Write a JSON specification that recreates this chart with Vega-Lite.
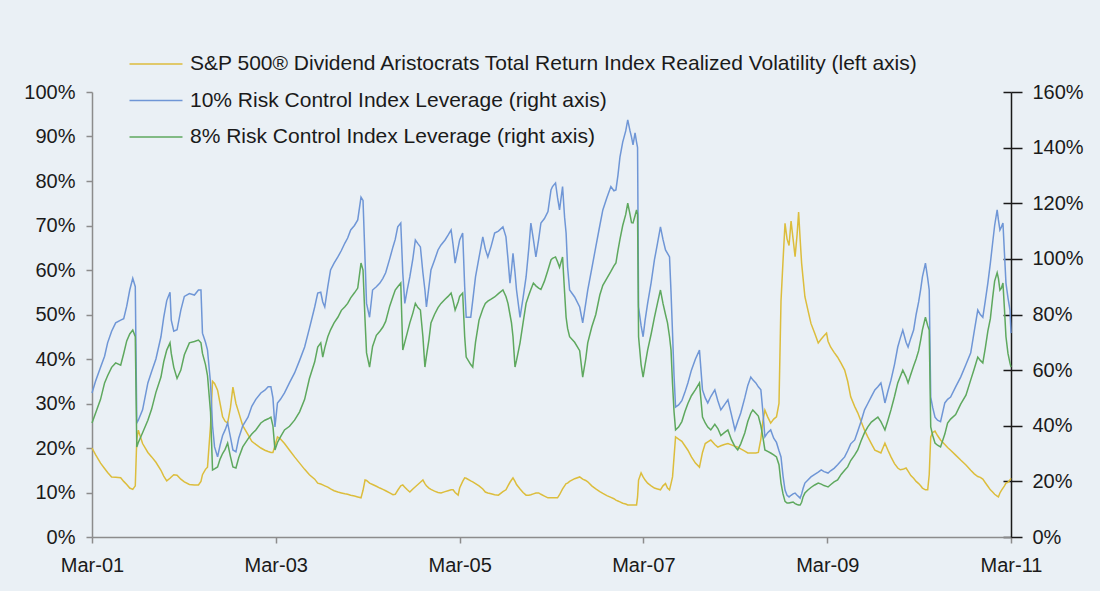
{
  "$schema": "https://vega.github.io/schema/vega-lite/v6.json",
  "width": 919,
  "height": 445,
  "autosize": {"type": "none"},
  "padding": {"left": 92, "top": 92, "right": 89, "bottom": 54},
  "background": "#eaf0f5",
  "config": {
    "view": {"stroke": null},
    "font": "Liberation Sans",
    "axis": {"labelFont": "Liberation Sans", "labelFontSize": 20, "labelColor": "#1a1a1a", "title": null},
    "legend": {"labelFont": "Liberation Sans"}
  },
  "data": {"values": [
    {"date":"2001-03-01","vol":20,"lev10":51.8,"lev8":41},
    {"date":"2001-03-15","vol":18.5,"lev10":56,"lev8":44.5},
    {"date":"2001-04-04","vol":16.6,"lev10":61,"lev8":49.5},
    {"date":"2001-04-20","vol":15.4,"lev10":65,"lev8":55.4},
    {"date":"2001-05-02","vol":14.5,"lev10":69.8,"lev8":58},
    {"date":"2001-05-18","vol":13.5,"lev10":74,"lev8":61},
    {"date":"2001-06-03","vol":13.4,"lev10":77,"lev8":62.6},
    {"date":"2001-06-23","vol":13.3,"lev10":78,"lev8":61.8},
    {"date":"2001-07-05","vol":12.5,"lev10":78.5,"lev8":66},
    {"date":"2001-07-17","vol":11.8,"lev10":83,"lev8":70.5},
    {"date":"2001-07-29","vol":11,"lev10":88.8,"lev8":73},
    {"date":"2001-08-10","vol":10.7,"lev10":93,"lev8":74.4},
    {"date":"2001-08-20","vol":11.5,"lev10":90,"lev8":72},
    {"date":"2001-08-26","vol":22,"lev10":41,"lev8":32.4},
    {"date":"2001-09-01","vol":24,"lev10":42,"lev8":34},
    {"date":"2001-09-18","vol":21,"lev10":45.7,"lev8":37.5},
    {"date":"2001-10-09","vol":19,"lev10":55.4,"lev8":42},
    {"date":"2001-10-24","vol":18,"lev10":59.5,"lev8":46},
    {"date":"2001-11-10","vol":16.8,"lev10":64,"lev8":52},
    {"date":"2001-11-30","vol":15,"lev10":72,"lev8":57.5},
    {"date":"2001-12-11","vol":13.7,"lev10":79,"lev8":63},
    {"date":"2001-12-23","vol":12.6,"lev10":85,"lev8":67.2},
    {"date":"2002-01-05","vol":13.2,"lev10":88,"lev8":69.8},
    {"date":"2002-01-10","vol":13.5,"lev10":78,"lev8":66},
    {"date":"2002-01-20","vol":14,"lev10":74,"lev8":61},
    {"date":"2002-02-02","vol":13.9,"lev10":74.5,"lev8":57},
    {"date":"2002-02-17","vol":13,"lev10":81.6,"lev8":60},
    {"date":"2002-03-03","vol":12.4,"lev10":86.5,"lev8":65.5},
    {"date":"2002-03-23","vol":11.8,"lev10":87.5,"lev8":69.8},
    {"date":"2002-04-12","vol":11.7,"lev10":87,"lev8":70.3},
    {"date":"2002-04-28","vol":11.7,"lev10":88.8,"lev8":70.8},
    {"date":"2002-05-08","vol":12.5,"lev10":88.8,"lev8":69.8},
    {"date":"2002-05-14","vol":14,"lev10":73.3,"lev8":66},
    {"date":"2002-05-26","vol":15.2,"lev10":70,"lev8":62},
    {"date":"2002-06-03","vol":15.7,"lev10":67.2,"lev8":58},
    {"date":"2002-06-15","vol":25,"lev10":55.4,"lev8":45},
    {"date":"2002-06-23","vol":35,"lev10":40,"lev8":24.1},
    {"date":"2002-07-01","vol":34.5,"lev10":32.4,"lev8":24.5},
    {"date":"2002-07-13","vol":33,"lev10":28.8,"lev8":25.2},
    {"date":"2002-07-23","vol":30,"lev10":33,"lev8":28},
    {"date":"2002-08-02","vol":27,"lev10":36.5,"lev8":30},
    {"date":"2002-08-12","vol":26,"lev10":38.5,"lev8":31.5},
    {"date":"2002-08-22","vol":25.6,"lev10":41,"lev8":33.8},
    {"date":"2002-09-02","vol":29,"lev10":36,"lev8":29},
    {"date":"2002-09-12","vol":33.7,"lev10":31.3,"lev8":25.2},
    {"date":"2002-09-24","vol":30,"lev10":30.6,"lev8":24.8},
    {"date":"2002-10-05","vol":28,"lev10":35.5,"lev8":28.5},
    {"date":"2002-10-21","vol":25,"lev10":40,"lev8":32.4},
    {"date":"2002-11-11","vol":23,"lev10":43.1,"lev8":35.3},
    {"date":"2002-11-26","vol":21.5,"lev10":47,"lev8":37},
    {"date":"2002-12-12","vol":20.8,"lev10":49.5,"lev8":38.5},
    {"date":"2003-01-01","vol":20,"lev10":51.8,"lev8":41},
    {"date":"2003-01-17","vol":19.5,"lev10":52.8,"lev8":42},
    {"date":"2003-01-30","vol":19.2,"lev10":54,"lev8":42.5},
    {"date":"2003-02-10","vol":19,"lev10":54,"lev8":43.1},
    {"date":"2003-02-18","vol":19,"lev10":50,"lev8":40},
    {"date":"2003-02-26","vol":20.5,"lev10":39.6,"lev8":31.3},
    {"date":"2003-03-08","vol":22.5,"lev10":48.2,"lev8":34},
    {"date":"2003-03-20","vol":22,"lev10":49.5,"lev8":36},
    {"date":"2003-04-05","vol":21,"lev10":51.8,"lev8":38.5},
    {"date":"2003-04-25","vol":19.5,"lev10":55.5,"lev8":39.8},
    {"date":"2003-05-15","vol":18,"lev10":59,"lev8":42},
    {"date":"2003-06-04","vol":16.6,"lev10":63.5,"lev8":45},
    {"date":"2003-06-24","vol":15.2,"lev10":68.3,"lev8":49.5},
    {"date":"2003-07-13","vol":14,"lev10":75,"lev8":57},
    {"date":"2003-08-03","vol":13,"lev10":82.7,"lev8":63},
    {"date":"2003-08-15","vol":12.1,"lev10":87.7,"lev8":68.3},
    {"date":"2003-08-27","vol":11.9,"lev10":88,"lev8":69.8},
    {"date":"2003-09-04","vol":11.7,"lev10":84.5,"lev8":64.7},
    {"date":"2003-09-12","vol":11.5,"lev10":82.7,"lev8":68},
    {"date":"2003-09-24","vol":11.2,"lev10":90,"lev8":72},
    {"date":"2003-10-05","vol":10.8,"lev10":96,"lev8":74.5},
    {"date":"2003-10-19","vol":10.4,"lev10":98.5,"lev8":77},
    {"date":"2003-11-03","vol":10.1,"lev10":100.7,"lev8":79},
    {"date":"2003-11-17","vol":9.9,"lev10":103,"lev8":81.5},
    {"date":"2003-12-01","vol":9.7,"lev10":105.7,"lev8":82.8},
    {"date":"2003-12-12","vol":9.6,"lev10":107.5,"lev8":84},
    {"date":"2003-12-24","vol":9.4,"lev10":110.4,"lev8":86},
    {"date":"2004-01-08","vol":9.2,"lev10":112,"lev8":87.8},
    {"date":"2004-01-21","vol":9,"lev10":114,"lev8":89.5},
    {"date":"2004-02-03","vol":8.8,"lev10":122.2,"lev8":98.5},
    {"date":"2004-02-11","vol":10.5,"lev10":121,"lev8":96},
    {"date":"2004-02-19","vol":12.8,"lev10":100,"lev8":78},
    {"date":"2004-02-25","vol":12.7,"lev10":84,"lev8":66.2},
    {"date":"2004-03-08","vol":12.1,"lev10":79,"lev8":61.1},
    {"date":"2004-03-20","vol":11.8,"lev10":88.8,"lev8":68.5},
    {"date":"2004-04-04","vol":11.4,"lev10":90,"lev8":72.5},
    {"date":"2004-04-18","vol":11,"lev10":91.3,"lev8":74},
    {"date":"2004-04-30","vol":10.7,"lev10":93,"lev8":75.5},
    {"date":"2004-05-11","vol":10.4,"lev10":95,"lev8":77.5},
    {"date":"2004-05-27","vol":9.9,"lev10":100,"lev8":83},
    {"date":"2004-06-09","vol":9.5,"lev10":104.3,"lev8":86.5},
    {"date":"2004-06-18","vol":9.6,"lev10":107,"lev8":88.8},
    {"date":"2004-06-28","vol":10.5,"lev10":111.5,"lev8":90},
    {"date":"2004-07-10","vol":11.5,"lev10":112.9,"lev8":91.3},
    {"date":"2004-07-18","vol":11.7,"lev10":95,"lev8":67.2},
    {"date":"2004-07-26","vol":11.2,"lev10":84,"lev8":70},
    {"date":"2004-08-05","vol":10.6,"lev10":89,"lev8":73.5},
    {"date":"2004-08-15","vol":10.1,"lev10":93.5,"lev8":77},
    {"date":"2004-08-27","vol":10.8,"lev10":100,"lev8":80.5},
    {"date":"2004-09-06","vol":11.3,"lev10":106.8,"lev8":84},
    {"date":"2004-09-16","vol":11.8,"lev10":105.5,"lev8":82.5},
    {"date":"2004-09-26","vol":12.3,"lev10":104.3,"lev8":81.6},
    {"date":"2004-10-06","vol":12.8,"lev10":95,"lev8":72},
    {"date":"2004-10-14","vol":12,"lev10":88.8,"lev8":61.1},
    {"date":"2004-10-20","vol":11.5,"lev10":82.7,"lev8":65},
    {"date":"2004-10-30","vol":11,"lev10":90,"lev8":71},
    {"date":"2004-11-07","vol":10.7,"lev10":96,"lev8":77},
    {"date":"2004-11-21","vol":10.3,"lev10":99.5,"lev8":80},
    {"date":"2004-12-05","vol":10,"lev10":103.2,"lev8":82.5},
    {"date":"2004-12-17","vol":9.9,"lev10":105,"lev8":84},
    {"date":"2005-01-02","vol":10.2,"lev10":106.8,"lev8":85.5},
    {"date":"2005-01-14","vol":10.4,"lev10":108.5,"lev8":86.5},
    {"date":"2005-01-26","vol":10.6,"lev10":110.4,"lev8":87.7},
    {"date":"2005-02-03","vol":10.6,"lev10":105,"lev8":85},
    {"date":"2005-02-11","vol":10,"lev10":98.5,"lev8":81.6},
    {"date":"2005-02-23","vol":9.4,"lev10":104,"lev8":84.5},
    {"date":"2005-03-01","vol":11,"lev10":106.8,"lev8":86.5},
    {"date":"2005-03-13","vol":12.5,"lev10":109.3,"lev8":87.7},
    {"date":"2005-03-21","vol":13.3,"lev10":90,"lev8":72},
    {"date":"2005-03-27","vol":13.2,"lev10":79,"lev8":64.7},
    {"date":"2005-04-14","vol":12.6,"lev10":79,"lev8":62},
    {"date":"2005-04-22","vol":12.4,"lev10":85,"lev8":61.1},
    {"date":"2005-05-03","vol":12,"lev10":93.5,"lev8":70},
    {"date":"2005-05-17","vol":11.5,"lev10":100.5,"lev8":78},
    {"date":"2005-06-01","vol":10.8,"lev10":107.9,"lev8":82},
    {"date":"2005-06-11","vol":10.1,"lev10":103.5,"lev8":84},
    {"date":"2005-06-21","vol":9.9,"lev10":100.7,"lev8":84.8},
    {"date":"2005-07-04","vol":9.7,"lev10":104.5,"lev8":85.5},
    {"date":"2005-07-18","vol":9.5,"lev10":109.3,"lev8":86.3},
    {"date":"2005-08-02","vol":9.4,"lev10":110,"lev8":87.5},
    {"date":"2005-08-20","vol":10.2,"lev10":111.5,"lev8":88.8},
    {"date":"2005-09-01","vol":10.6,"lev10":107.9,"lev8":86.5},
    {"date":"2005-09-09","vol":11.5,"lev10":100,"lev8":84},
    {"date":"2005-09-17","vol":12.3,"lev10":91.3,"lev8":80},
    {"date":"2005-09-23","vol":12.8,"lev10":96,"lev8":77},
    {"date":"2005-09-29","vol":13.3,"lev10":102,"lev8":72},
    {"date":"2005-10-07","vol":12.5,"lev10":95,"lev8":61.1},
    {"date":"2005-10-13","vol":11.8,"lev10":88.8,"lev8":63.5},
    {"date":"2005-10-27","vol":10.8,"lev10":79,"lev8":69.8},
    {"date":"2005-11-08","vol":10,"lev10":86,"lev8":77},
    {"date":"2005-11-20","vol":9.4,"lev10":93.5,"lev8":84},
    {"date":"2005-12-01","vol":9.4,"lev10":104,"lev8":87},
    {"date":"2005-12-09","vol":9.5,"lev10":112.9,"lev8":89},
    {"date":"2005-12-19","vol":9.7,"lev10":107,"lev8":91.3},
    {"date":"2005-12-29","vol":9.9,"lev10":100.7,"lev8":90.3},
    {"date":"2006-01-09","vol":9.9,"lev10":107,"lev8":89.5},
    {"date":"2006-01-18","vol":9.6,"lev10":112.9,"lev8":89},
    {"date":"2006-02-01","vol":9.2,"lev10":114.5,"lev8":92},
    {"date":"2006-02-15","vol":8.8,"lev10":117,"lev8":96},
    {"date":"2006-02-27","vol":8.8,"lev10":124.8,"lev8":99.6},
    {"date":"2006-03-05","vol":8.8,"lev10":126,"lev8":100.2},
    {"date":"2006-03-17","vol":8.8,"lev10":127.3,"lev8":100.7},
    {"date":"2006-03-25","vol":8.8,"lev10":122,"lev8":99},
    {"date":"2006-04-02","vol":9.5,"lev10":117.6,"lev8":97},
    {"date":"2006-04-14","vol":10.8,"lev10":126,"lev8":100.7},
    {"date":"2006-04-22","vol":11.5,"lev10":115,"lev8":88},
    {"date":"2006-04-28","vol":12,"lev10":109.3,"lev8":79},
    {"date":"2006-05-04","vol":12.1,"lev10":97,"lev8":75},
    {"date":"2006-05-12","vol":12.5,"lev10":88.8,"lev8":72},
    {"date":"2006-06-01","vol":13.1,"lev10":86.3,"lev8":70},
    {"date":"2006-06-21","vol":13.5,"lev10":82.7,"lev8":67},
    {"date":"2006-07-03","vol":13,"lev10":77,"lev8":57.5},
    {"date":"2006-07-15","vol":12.7,"lev10":84,"lev8":64},
    {"date":"2006-07-23","vol":12.4,"lev10":88.8,"lev8":69.8},
    {"date":"2006-08-08","vol":11.5,"lev10":96.5,"lev8":75.5},
    {"date":"2006-08-24","vol":10.8,"lev10":104.3,"lev8":80},
    {"date":"2006-09-09","vol":10.2,"lev10":112,"lev8":87},
    {"date":"2006-09-21","vol":9.8,"lev10":117.6,"lev8":90.5},
    {"date":"2006-10-07","vol":9.3,"lev10":122,"lev8":93},
    {"date":"2006-10-23","vol":8.9,"lev10":126,"lev8":95.5},
    {"date":"2006-11-04","vol":8.6,"lev10":124.5,"lev8":97.5},
    {"date":"2006-11-12","vol":8.3,"lev10":124.8,"lev8":98.5},
    {"date":"2006-11-20","vol":8.1,"lev10":130,"lev8":103},
    {"date":"2006-11-28","vol":7.9,"lev10":136.6,"lev8":107},
    {"date":"2006-12-09","vol":7.6,"lev10":142,"lev8":112},
    {"date":"2006-12-21","vol":7.4,"lev10":146,"lev8":116},
    {"date":"2006-12-29","vol":7.2,"lev10":150,"lev8":120},
    {"date":"2007-01-07","vol":7.2,"lev10":146,"lev8":116},
    {"date":"2007-01-13","vol":7.2,"lev10":143.8,"lev8":113},
    {"date":"2007-01-19","vol":7.2,"lev10":141,"lev8":112.9},
    {"date":"2007-01-27","vol":7.2,"lev10":145.3,"lev8":115.5},
    {"date":"2007-02-02","vol":7.2,"lev10":142,"lev8":117.6},
    {"date":"2007-02-06","vol":9,"lev10":140,"lev8":116},
    {"date":"2007-02-10","vol":12.8,"lev10":82.7,"lev8":72},
    {"date":"2007-02-20","vol":14.4,"lev10":76,"lev8":62},
    {"date":"2007-02-28","vol":13.5,"lev10":72,"lev8":57.5},
    {"date":"2007-03-08","vol":12.8,"lev10":78,"lev8":62},
    {"date":"2007-03-18","vol":12.1,"lev10":84,"lev8":67.2},
    {"date":"2007-04-01","vol":11.5,"lev10":91.5,"lev8":73},
    {"date":"2007-04-14","vol":11,"lev10":99.6,"lev8":79},
    {"date":"2007-04-26","vol":10.8,"lev10":105.5,"lev8":84},
    {"date":"2007-05-08","vol":10.6,"lev10":111.5,"lev8":88.8},
    {"date":"2007-05-18","vol":11.5,"lev10":107,"lev8":84},
    {"date":"2007-05-28","vol":12,"lev10":103.2,"lev8":80},
    {"date":"2007-06-05","vol":11,"lev10":102,"lev8":77},
    {"date":"2007-06-13","vol":10.6,"lev10":100.7,"lev8":72},
    {"date":"2007-06-19","vol":12,"lev10":88,"lev8":67.2},
    {"date":"2007-06-25","vol":13.5,"lev10":73.3,"lev8":55},
    {"date":"2007-07-01","vol":18,"lev10":58,"lev8":45},
    {"date":"2007-07-07","vol":22.5,"lev10":46.7,"lev8":38.5},
    {"date":"2007-07-19","vol":22,"lev10":47.5,"lev8":39.5},
    {"date":"2007-08-01","vol":21.5,"lev10":49,"lev8":41.5},
    {"date":"2007-08-13","vol":20.5,"lev10":52,"lev8":45},
    {"date":"2007-08-25","vol":19.5,"lev10":55.4,"lev8":48},
    {"date":"2007-09-08","vol":18,"lev10":60,"lev8":50.8},
    {"date":"2007-09-24","vol":16.6,"lev10":64,"lev8":53},
    {"date":"2007-10-10","vol":15.7,"lev10":67.2,"lev8":55.4},
    {"date":"2007-10-22","vol":19,"lev10":52.9,"lev8":43.1},
    {"date":"2007-11-02","vol":21,"lev10":50,"lev8":41},
    {"date":"2007-11-12","vol":21.4,"lev10":48.2,"lev8":39.5},
    {"date":"2007-11-24","vol":21.8,"lev10":50.5,"lev8":38.5},
    {"date":"2007-12-10","vol":20.8,"lev10":52.9,"lev8":40.5},
    {"date":"2007-12-22","vol":20.2,"lev10":49,"lev8":39},
    {"date":"2008-01-03","vol":20.5,"lev10":45.7,"lev8":36.5},
    {"date":"2008-01-17","vol":20.8,"lev10":47.5,"lev8":37.5},
    {"date":"2008-01-31","vol":21,"lev10":49.3,"lev8":38.5},
    {"date":"2008-02-14","vol":20.7,"lev10":44,"lev8":35},
    {"date":"2008-02-28","vol":20.4,"lev10":38.5,"lev8":32.5},
    {"date":"2008-03-10","vol":20.2,"lev10":41.5,"lev8":31.3},
    {"date":"2008-03-22","vol":19.8,"lev10":44.6,"lev8":33.5},
    {"date":"2008-04-07","vol":19.3,"lev10":50,"lev8":37.4},
    {"date":"2008-04-19","vol":18.9,"lev10":54.5,"lev8":41.5},
    {"date":"2008-05-01","vol":18.9,"lev10":57.5,"lev8":44.5},
    {"date":"2008-05-09","vol":18.9,"lev10":56.5,"lev8":45.7},
    {"date":"2008-05-21","vol":18.9,"lev10":55.4,"lev8":44.5},
    {"date":"2008-05-31","vol":19,"lev10":54,"lev8":43.5},
    {"date":"2008-06-10","vol":22,"lev10":52.9,"lev8":40},
    {"date":"2008-06-18","vol":26,"lev10":45,"lev8":36},
    {"date":"2008-06-26","vol":28.5,"lev10":36,"lev8":31.3},
    {"date":"2008-07-07","vol":27,"lev10":37.5,"lev8":30.8},
    {"date":"2008-07-19","vol":25.6,"lev10":38.5,"lev8":30.2},
    {"date":"2008-07-31","vol":26.5,"lev10":35.5,"lev8":29.5},
    {"date":"2008-08-11","vol":27,"lev10":34,"lev8":28.8},
    {"date":"2008-08-21","vol":30,"lev10":31,"lev8":26},
    {"date":"2008-08-29","vol":53,"lev10":28.8,"lev8":19.4},
    {"date":"2008-09-06","vol":62,"lev10":22,"lev8":15.5},
    {"date":"2008-09-14","vol":70.5,"lev10":16.9,"lev8":12.8},
    {"date":"2008-09-22","vol":67,"lev10":15,"lev8":12.2},
    {"date":"2008-09-30","vol":65.5,"lev10":14.4,"lev8":12.2},
    {"date":"2008-10-08","vol":71,"lev10":15,"lev8":12.4},
    {"date":"2008-10-16","vol":67,"lev10":15.5,"lev8":12.6},
    {"date":"2008-10-24","vol":63,"lev10":15.8,"lev8":12},
    {"date":"2008-11-01","vol":68,"lev10":15,"lev8":11.7},
    {"date":"2008-11-07","vol":73,"lev10":14.5,"lev8":11.5},
    {"date":"2008-11-13","vol":67,"lev10":14,"lev8":11.5},
    {"date":"2008-11-19","vol":61.5,"lev10":15.5,"lev8":12.5},
    {"date":"2008-11-25","vol":58,"lev10":17.5,"lev8":14.5},
    {"date":"2008-12-02","vol":54,"lev10":19.4,"lev8":15.8},
    {"date":"2008-12-14","vol":51,"lev10":20.5,"lev8":16.9},
    {"date":"2008-12-26","vol":48,"lev10":21.6,"lev8":17.8},
    {"date":"2009-01-10","vol":45.8,"lev10":22.5,"lev8":18.7},
    {"date":"2009-01-24","vol":43.6,"lev10":23.3,"lev8":19.4},
    {"date":"2009-02-05","vol":44.5,"lev10":24.1,"lev8":19},
    {"date":"2009-02-16","vol":45.2,"lev10":23.5,"lev8":18.5},
    {"date":"2009-02-26","vol":45.8,"lev10":23.2,"lev8":18.2},
    {"date":"2009-03-04","vol":44,"lev10":23,"lev8":18},
    {"date":"2009-03-14","vol":42.7,"lev10":23.8,"lev8":18.8},
    {"date":"2009-03-28","vol":41.5,"lev10":24.7,"lev8":19.8},
    {"date":"2009-04-11","vol":40.4,"lev10":26,"lev8":20.5},
    {"date":"2009-04-25","vol":39,"lev10":27.4,"lev8":22.5},
    {"date":"2009-05-09","vol":37.5,"lev10":28.8,"lev8":24},
    {"date":"2009-05-21","vol":35,"lev10":31,"lev8":25.2},
    {"date":"2009-06-02","vol":31.5,"lev10":33.5,"lev8":27.5},
    {"date":"2009-06-18","vol":29.3,"lev10":34.9,"lev8":29.5},
    {"date":"2009-06-30","vol":27.9,"lev10":38,"lev8":31.3},
    {"date":"2009-07-13","vol":26,"lev10":41.5,"lev8":34.5},
    {"date":"2009-07-27","vol":24,"lev10":45.7,"lev8":37.5},
    {"date":"2009-08-09","vol":22.5,"lev10":48,"lev8":39.6},
    {"date":"2009-08-23","vol":21,"lev10":50.5,"lev8":41.3},
    {"date":"2009-09-06","vol":19.5,"lev10":52.9,"lev8":42.3},
    {"date":"2009-09-18","vol":19.2,"lev10":54,"lev8":43.1},
    {"date":"2009-09-30","vol":18.9,"lev10":55.4,"lev8":41.5},
    {"date":"2009-10-08","vol":20,"lev10":52,"lev8":40},
    {"date":"2009-10-16","vol":21.1,"lev10":48.2,"lev8":38.5},
    {"date":"2009-10-28","vol":19.5,"lev10":52.5,"lev8":42},
    {"date":"2009-11-09","vol":18,"lev10":56.4,"lev8":45.7},
    {"date":"2009-11-23","vol":16.5,"lev10":62,"lev8":50.5},
    {"date":"2009-12-06","vol":15.5,"lev10":68.3,"lev8":55.4},
    {"date":"2009-12-16","vol":15.1,"lev10":71.5,"lev8":57.7},
    {"date":"2009-12-26","vol":15.2,"lev10":74.4,"lev8":60},
    {"date":"2010-01-08","vol":15.5,"lev10":70,"lev8":57.5},
    {"date":"2010-01-16","vol":14.8,"lev10":68.3,"lev8":55.4},
    {"date":"2010-01-27","vol":13.8,"lev10":71.5,"lev8":58.5},
    {"date":"2010-02-07","vol":13.2,"lev10":74.4,"lev8":61.5},
    {"date":"2010-02-17","vol":12.5,"lev10":80,"lev8":64},
    {"date":"2010-02-27","vol":12,"lev10":84.5,"lev8":67},
    {"date":"2010-03-07","vol":11.5,"lev10":89,"lev8":70.8},
    {"date":"2010-03-14","vol":11,"lev10":93.5,"lev8":74.5},
    {"date":"2010-03-26","vol":10.6,"lev10":98.5,"lev8":79},
    {"date":"2010-04-04","vol":10.6,"lev10":93,"lev8":76},
    {"date":"2010-04-10","vol":14,"lev10":88.8,"lev8":74.4},
    {"date":"2010-04-16","vol":22.5,"lev10":50.3,"lev8":39.6},
    {"date":"2010-04-24","vol":23.5,"lev10":46.5,"lev8":36.5},
    {"date":"2010-05-03","vol":23.8,"lev10":43.1,"lev8":33.8},
    {"date":"2010-05-13","vol":22.8,"lev10":42,"lev8":33},
    {"date":"2010-05-25","vol":21.8,"lev10":41.5,"lev8":32.4},
    {"date":"2010-06-11","vol":20.8,"lev10":48.2,"lev8":37},
    {"date":"2010-06-22","vol":20.1,"lev10":49.5,"lev8":41},
    {"date":"2010-07-04","vol":19.5,"lev10":50.3,"lev8":42.4},
    {"date":"2010-07-24","vol":18.4,"lev10":54,"lev8":44},
    {"date":"2010-08-13","vol":17.3,"lev10":57.5,"lev8":47.8},
    {"date":"2010-09-03","vol":16.2,"lev10":62,"lev8":51},
    {"date":"2010-09-22","vol":15,"lev10":66.2,"lev8":56.5},
    {"date":"2010-10-06","vol":14.2,"lev10":74,"lev8":60.5},
    {"date":"2010-10-20","vol":13.6,"lev10":81.6,"lev8":64.7},
    {"date":"2010-10-30","vol":13.4,"lev10":80,"lev8":63.5},
    {"date":"2010-11-09","vol":13,"lev10":79,"lev8":62.6},
    {"date":"2010-11-19","vol":12.2,"lev10":85,"lev8":68},
    {"date":"2010-11-29","vol":11.4,"lev10":91.3,"lev8":74},
    {"date":"2010-12-09","vol":10.6,"lev10":98.5,"lev8":78.5},
    {"date":"2010-12-18","vol":10.1,"lev10":105.7,"lev8":86},
    {"date":"2010-12-26","vol":9.6,"lev10":112,"lev8":92},
    {"date":"2011-01-05","vol":9.2,"lev10":117.6,"lev8":95},
    {"date":"2011-01-10","vol":9,"lev10":114,"lev8":93},
    {"date":"2011-01-16","vol":9.9,"lev10":110.4,"lev8":88.8},
    {"date":"2011-01-22","vol":10.5,"lev10":111.5,"lev8":89.5},
    {"date":"2011-01-28","vol":11,"lev10":112.9,"lev8":91.3},
    {"date":"2011-02-03","vol":11.5,"lev10":102,"lev8":82},
    {"date":"2011-02-09","vol":12.1,"lev10":91.3,"lev8":72},
    {"date":"2011-02-17","vol":12.3,"lev10":86,"lev8":66},
    {"date":"2011-02-25","vol":12.8,"lev10":81.6,"lev8":62.5},
    {"date":"2011-03-01","vol":13.2,"lev10":73.3,"lev8":61.1}
  ]},
  "encoding": {
    "x": {
      "field": "date", "type": "temporal",
      "scale": {"domain": [{"year": 2001, "month": "mar", "date": 1}, {"year": 2011, "month": "mar", "date": 1}]},
      "axis": {
        "values": [
          {"year": 2001, "month": "mar", "date": 1},
          {"year": 2003, "month": "mar", "date": 1},
          {"year": 2005, "month": "mar", "date": 1},
          {"year": 2007, "month": "mar", "date": 1},
          {"year": 2009, "month": "mar", "date": 1},
          {"year": 2011, "month": "mar", "date": 1}
        ],
        "format": "%b-%y", "title": null, "grid": false,
        "domainColor": "#8c8c8c", "domainWidth": 1.5,
        "tickColor": "#8c8c8c", "tickWidth": 1.5, "tickSize": 6,
        "labelPadding": 12, "labelFlush": false, "labelOverlap": false
      }
    }
  },
  "layer": [
    {
      "mark": {"type": "line", "strokeWidth": 1.5},
      "encoding": {
        "y": {
          "field": "vol", "type": "quantitative",
          "scale": {"domain": [0, 100], "nice": false},
          "axis": {
            "orient": "left", "title": null, "grid": false,
            "values": [0, 10, 20, 30, 40, 50, 60, 70, 80, 90, 100],
            "labelExpr": "datum.value + '%'",
            "domainColor": "#8c8c8c", "domainWidth": 1.5,
            "tickColor": "#8c8c8c", "tickWidth": 1.5, "tickSize": 6,
            "labelPadding": 11
          }
        },
        "color": {
          "datum": "S&P 500® Dividend Aristocrats Total Return Index Realized Volatility (left axis)",
          "scale": {
            "domain": [
              "S&P 500® Dividend Aristocrats Total Return Index Realized Volatility (left axis)",
              "10% Risk Control Index Leverage (right axis)",
              "8% Risk Control Index Leverage (right axis)"
            ],
            "range": ["#dcbd3c", "#6f96d6", "#5ea85e"]
          },
          "legend": {
            "orient": "none", "legendX": 50, "legendY": -42, "title": null,
            "symbolType": "M-2,0L2,0", "symbolSize": 702, "symbolStrokeWidth": 1.5,
            "labelFontSize": 21, "labelColor": "#1a1a1a", "labelLimit": 2000,
            "labelOffset": 20, "rowPadding": 12.5, "padding": 0
          }
        }
      }
    },
    {
      "layer": [
        {
          "mark": {"type": "line", "strokeWidth": 1.5},
          "encoding": {
            "y": {
              "field": "lev10", "type": "quantitative",
              "scale": {"domain": [0, 160], "nice": false},
              "axis": {
                "orient": "right", "title": null,
                "values": [0, 20, 40, 60, 80, 100, 120, 140, 160],
                "labelExpr": "datum.value + '%'",
                "grid": true, "gridColor": "#1a1a1a", "gridWidth": 1.5, "gridDash": [8, 3000],
                "domainColor": "#1a1a1a", "domainWidth": 1.5,
                "tickColor": "#1a1a1a", "tickWidth": 1.5, "tickSize": 11,
                "labelPadding": 10
              }
            },
            "color": {"datum": "10% Risk Control Index Leverage (right axis)"}
          }
        },
        {
          "mark": {"type": "line", "strokeWidth": 1.5},
          "encoding": {
            "y": {"field": "lev8", "type": "quantitative"},
            "color": {"datum": "8% Risk Control Index Leverage (right axis)"}
          }
        }
      ]
    }
  ],
  "resolve": {"scale": {"y": "independent"}}
}
